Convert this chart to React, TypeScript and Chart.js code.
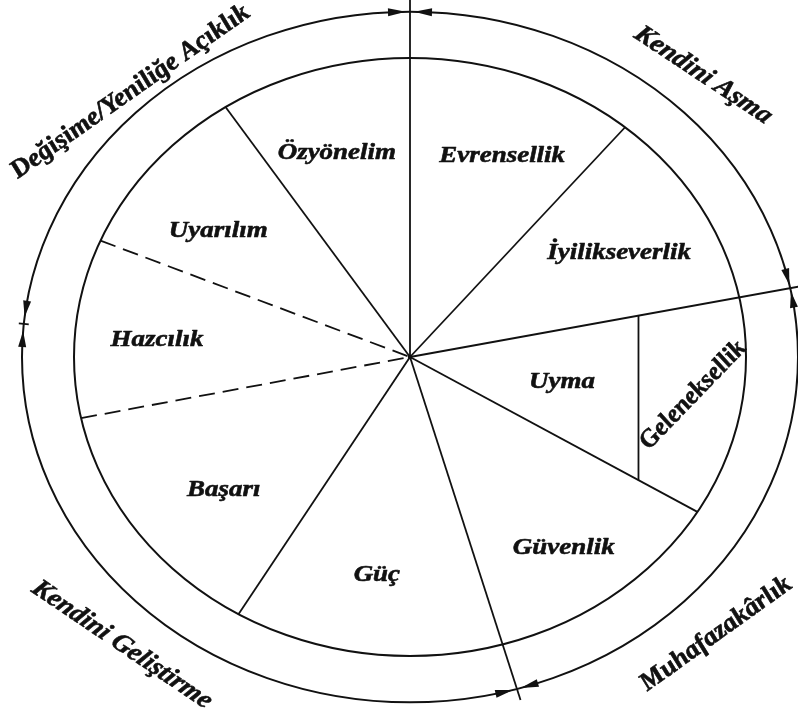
import React, { useEffect, useRef } from 'react';
import { Chart, registerables } from 'chart.js';

Chart.register(...registerables);

// ---- DATA (angular extents in degrees, clockwise from the top) ----
const valueNames = ['Evrensellik', 'İyilikseverlik', 'Uyma / Geleneksellik', 'Güvenlik', 'Güç', 'Başarı', 'Hazcılık', 'Uyarılım', 'Özyönelim'];
const valueSpans = [39.8, 38.7, 42.7, 42.8, 46.7, 47.5, 34.7, 33.8, 33.3];

const higherOrderNames = ['Kendini Aşma', 'Muhafazakârlık', 'Kendini Geliştirme', 'Değişime/Yeniliğe Açıklık'];
const higherOrderSpans = [78.5, 85.5, 111.5, 84.5];

const dashedValue = 'Hazcılık';
const splitValue = 'Uyma / Geleneksellik';
const splitParts = ['Uyma', 'Geleneksellik'];
const splitAt = 0.68; // share of the radius (horizontal) where Geleneksellik begins

// ---- LAYOUT / STYLE ----
const K = 0.89;      // vertical squash of the circle (ellipse)
const SX = 1 / K;    // matching horizontal stretch of the lettering
const INK = '#111111';
const FONT = '"Liberation Serif", "Times New Roman", serif';

const LABEL_LAYOUT: Record<string, { a: number; r: number; rot?: number; size?: number }> = {
  'Evrensellik': { a: 22.2, r: 0.726 },
  'İyilikseverlik': { a: 60.8, r: 0.713 },
  'Uyma': { a: 100.5, r: 0.46 },
  'Geleneksellik': { a: 98.6, r: 0.852, rot: -49.3 },
  'Güvenlik': { a: 144.4, r: 0.786 },
  'Güç': { a: 187.7, r: 0.736 },
  'Başarı': { a: 231.2, r: 0.711 },
  'Hazcılık': { a: 274.3, r: 0.755 },
  'Uyarılım': { a: 306.4, r: 0.709 },
  'Özyönelim': { a: 342.3, r: 0.716 },
  'Kendini Aşma': { a: 42.8, r: 1.284, rot: 36.6, size: 25 },
  'Muhafazakârlık': { a: 135.5, r: 1.299, rot: -38.8, size: 25 },
  'Kendini Geliştirme': { a: 221.7, r: 1.289, rot: 37.2, size: 25 },
  'Değişime/Yeniliğe Açıklık': { a: 316.8, r: 1.216, rot: -38.2, size: 25 },
};

const angDiff = (a: number, b: number) => {
  let d = (a - b) % (2 * Math.PI);
  if (d > Math.PI) d -= 2 * Math.PI;
  if (d < -Math.PI) d += 2 * Math.PI;
  return Math.abs(d);
};

const circlePlugin = {
  id: 'valueCircle',
  beforeDatasetsDraw(chart: any) {
    const arc = chart.getDatasetMeta(1).data[0];
    const ctx = chart.ctx;
    ctx.save();
    ctx.translate(arc.x, arc.y);
    ctx.scale(1, K);
    ctx.translate(-arc.x, -arc.y);
  },
  afterDatasetsDraw(chart: any) {
    const ctx = chart.ctx;
    ctx.restore();

    const inner = chart.getDatasetMeta(1).data as any[];
    const ring = chart.getDatasetMeta(0).data as any[];
    const cx = inner[0].x;
    const cy = inner[0].y;
    const R = inner[0].outerRadius;
    const R2 = ring[0].outerRadius;
    const P = (r: number, a: number) => [cx + r * Math.cos(a), cy + r * K * Math.sin(a)];
    const fromTop = (d: number) => -Math.PI / 2 + (d * Math.PI) / 180;

    ctx.save();
    ctx.strokeStyle = INK;
    ctx.fillStyle = INK;
    ctx.lineWidth = 2;

    // circles
    ctx.beginPath();
    ctx.ellipse(cx, cy, R, R * K, 0, 0, 2 * Math.PI);
    ctx.stroke();
    ctx.beginPath();
    ctx.ellipse(cx, cy, R2, R2 * K, 0, 0, 2 * Math.PI);
    ctx.stroke();

    // radial boundaries of the basic values
    const dIdx = valueNames.indexOf(dashedValue);
    inner.forEach((arc, i) => {
      const a = arc.startAngle;
      const dashed = i === dIdx || i === (dIdx + 1) % inner.length;
      const onRing = ring.some((r) => angDiff(r.startAngle, a) < 0.005);
      const [x1, y1] = P(onRing ? R2 + 13 : R, a);
      ctx.setLineDash(dashed ? [16, 8] : []);
      ctx.lineWidth = 1.8;
      ctx.beginPath();
      ctx.moveTo(x1, y1);
      ctx.lineTo(cx, cy);
      ctx.stroke();
    });
    ctx.setLineDash([]);

    // Uyma / Geleneksellik split
    const sArc = inner[valueNames.indexOf(splitValue)];
    const sx = splitAt * R;
    const ys = [sArc.startAngle, sArc.endAngle].map((a: number) => cy + (sx / Math.cos(a)) * K * Math.sin(a));
    ctx.beginPath();
    ctx.moveTo(cx + sx, ys[0]);
    ctx.lineTo(cx + sx, ys[1]);
    ctx.stroke();

    // higher-order boundaries: ticks and arrows on the outer circle
    ring.forEach((arc) => {
      const a = arc.startAngle;
      const onInner = inner.some((r) => angDiff(r.startAngle, a) < 0.005);
      if (!onInner) {
        const [x1, y1] = P(R2 - 5, a);
        const [x2, y2] = P(R2 + 5, a);
        ctx.beginPath();
        ctx.moveTo(x1, y1);
        ctx.lineTo(x2, y2);
        ctx.stroke();
      }
      for (const side of [-1, 1]) {
        const gap = onInner ? 4 : 8, len = 18, hw = 4;
        const [tx, ty] = P(R2, a + (side * gap) / R2);
        const [bx, by] = P(R2, a + (side * (gap + len)) / R2);
        const dx = tx - bx, dy = ty - by, L = Math.hypot(dx, dy);
        const nx = (-dy / L) * hw, ny = (dx / L) * hw;
        ctx.beginPath();
        ctx.moveTo(tx, ty);
        ctx.lineTo(bx + nx, by + ny);
        ctx.lineTo(bx - nx, by - ny);
        ctx.closePath();
        ctx.fill();
      }
    });

    // center
    ctx.beginPath();
    ctx.arc(cx, cy, 2.2, 0, 2 * Math.PI);
    ctx.fill();

    // labels
    const labels: string[] = [];
    valueNames.forEach((n) => {
      if (n === splitValue) labels.push(...splitParts);
      else labels.push(n);
    });
    labels.push(...higherOrderNames);
    ctx.textAlign = 'center';
    ctx.textBaseline = 'middle';
    ctx.lineWidth = 0.6;
    ctx.lineJoin = 'round';
    labels.forEach((t) => {
      const L = LABEL_LAYOUT[t];
      if (!L) return;
      const [x, y] = P(L.r * R, fromTop(L.a));
      ctx.save();
      ctx.translate(x, y);
      ctx.scale(SX, 1);
      ctx.rotate(((L.rot || 0) * Math.PI) / 180);
      ctx.font = `italic bold ${L.size || 24}px ${FONT}`;
      ctx.fillText(t, 0, 0);
      ctx.strokeText(t, 0, 0);
      ctx.restore();
    });
    ctx.restore();
  },
};

export default function App() {
  const ref = useRef<HTMLCanvasElement | null>(null);
  useEffect(() => {
    if (!ref.current) return;
    const chart = new Chart(ref.current, {
      type: 'pie',
      data: {
        labels: valueNames,
        datasets: [
          { label: 'Üst boyutlar', data: higherOrderSpans, weight: 52, backgroundColor: '#ffffff', borderWidth: 0 } as any,
          { label: 'Temel değerler', data: valueSpans, weight: 336, backgroundColor: '#ffffff', borderWidth: 0 } as any,
        ],
      },
      options: {
        responsive: false,
        animation: false,
        events: [],
        radius: 388,
        cutout: 0,
        rotation: 0,
        circumference: 360,
        layout: { padding: { left: 22, top: 2, right: 0, bottom: 0 } },
        plugins: { legend: { display: false }, tooltip: { enabled: false } },
      } as any,
      plugins: [circlePlugin],
    });
    return () => chart.destroy();
  }, []);
  return (
    <div style={{ position: 'fixed', left: 0, top: 0, width: 798, height: 712, background: '#fff' }}>
      <canvas ref={ref} width={798} height={712} style={{ display: 'block' }} />
    </div>
  );
}
